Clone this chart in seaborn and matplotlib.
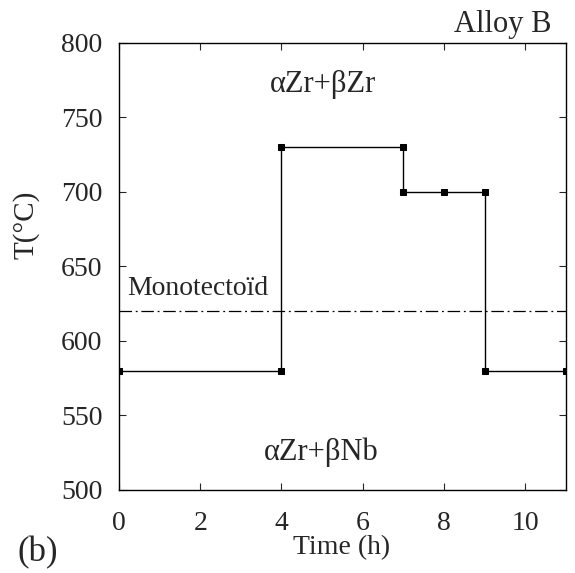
import pandas as pd
import matplotlib
matplotlib.use("Agg")
import matplotlib.pyplot as plt
import seaborn as sns

# heat treatment path, alloy B
time_h = [0, 4, 4, 7, 7, 8, 9, 9, 11]
temp_c = [580, 580, 730, 730, 700, 700, 700, 580, 580]
monotectoid_t = 620
x_ticks = [0, 2, 4, 6, 8, 10]
y_ticks = [500, 550, 600, 650, 700, 750, 800]

df = pd.DataFrame({"time": time_h, "T": temp_c})

sns.set_style("ticks")
plt.rcParams["font.family"] = ["Liberation Serif", "DejaVu Serif"]

fig = plt.figure(figsize=(5.75, 5.73), dpi=100)
ax = fig.add_axes([0.207, 0.145, 0.777, 0.78])

sns.lineplot(data=df, x="time", y="T", sort=False, estimator=None,
             color="black", lw=1.0, marker="s", markersize=4.5,
             markeredgecolor="black", ax=ax)
ax.axhline(monotectoid_t, color="black", lw=0.9, ls=(0, (10, 3, 1.5, 3)))

ax.set_xlim(0, 11)
ax.set_ylim(500, 800)
ax.set_xticks(x_ticks)
ax.set_yticks(y_ticks)
ax.tick_params(direction="in", length=5, width=0.8, top=True, right=True,
               labelsize=20)
ax.tick_params(axis="x", pad=15)
ax.tick_params(axis="y", pad=12)
for s in ax.spines.values():
    s.set_linewidth(1.0)
    s.set_color("black")

ax.set_xlabel("Time (h)", fontsize=20)
ax.xaxis.set_label_coords(0.497, -0.13)
ax.xaxis.label.set_verticalalignment("center")
ax.set_ylabel("T(°C)", fontsize=21)
ax.yaxis.set_label_coords(-0.208, 0.593)
ax.yaxis.label.set_verticalalignment("center")

ax.text(5.02, 772, "αZr+βZr", fontsize=22, ha="center", va="center")
ax.text(4.97, 525, "αZr+βNb", fontsize=22, ha="center", va="center")
ax.text(0.2, 635, "Monotectoïd", fontsize=20, ha="left", va="center")
ax.text(0.969, 1.025, "Alloy B", transform=ax.transAxes, fontsize=22,
        ha="right", va="baseline")
fig.text(0.03, 0.035, "(b)", fontsize=25, ha="left", va="center")

fig.savefig("out.png", dpi=100)
